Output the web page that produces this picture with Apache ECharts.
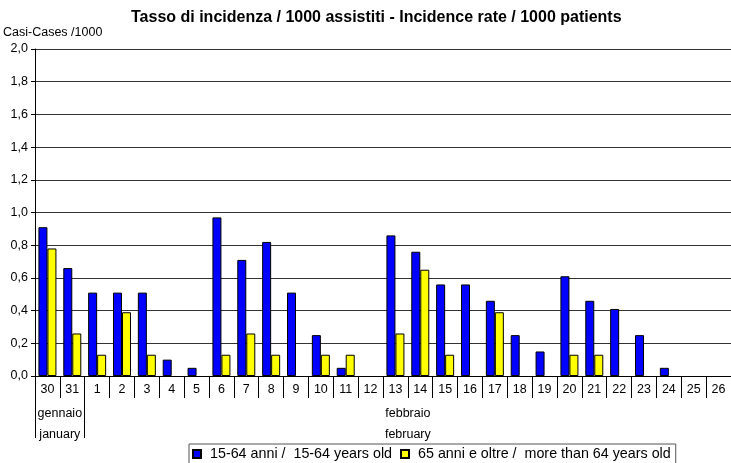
<!DOCTYPE html>
<html>
<head>
<meta charset="utf-8">
<script src="https://cdn.jsdelivr.net/npm/echarts@6/dist/echarts.min.js"></script>
<style>
  html, body { margin: 0; padding: 0; background: #fff; }
  #chart { width: 731px; height: 463px; }
</style>
</head>
<body>
<div id="chart"></div>
<script>
// giorni - days
var days = ['30', '31', '1', '2', '3', '4', '5', '6', '7', '8', '9', '10', '11', '12',
    '13', '14', '15', '16', '17', '18', '19', '20', '21', '22', '23', '24', '25', '26'];
var adults = [0.91, 0.66, 0.51, 0.51, 0.51, 0.10, 0.05, 0.97, 0.71, 0.82, 0.51, 0.25, 0.05, 0,
    0.86, 0.76, 0.56, 0.56, 0.46, 0.25, 0.15, 0.61, 0.46, 0.41, 0.25, 0.05, 0, 0];
var elderly = [0.78, 0.26, 0.13, 0.39, 0.13, 0, 0, 0.13, 0.26, 0.13, 0, 0.13, 0.13, 0,
    0.26, 0.65, 0.13, 0, 0.39, 0, 0, 0.13, 0.13, 0, 0, 0, 0, 0];
// mesi: confini e centro dei gruppi (in numero di categorie)
var monthBounds = [0, 2];
var monthCenters = [1, 15];
var monthNames = ['gennaio\njanuary', 'febbraio\nfebruary'];

var font = 'Liberation Sans, Arial, sans-serif';

// gli zeri non si disegnano (come in Excel)
function noZero(list) {
    return list.map(function (v) { return v === 0 ? '-' : v; });
}

var chart = echarts.init(document.getElementById('chart'));
chart.setOption({
    animation: false,
    title: {
        text: 'Tasso di incidenza / 1000 assistiti - Incidence rate / 1000 patients',
        left: 126,
        top: 5,
        textStyle: { fontFamily: font, fontSize: 16, fontWeight: 'bold', color: '#000' }
    },
    grid: {
        left: 35,
        top: 49,
        width: 700,
        height: 327
    },
    legend: {
        left: 189,
        top: 444,
        padding: [3, 5, 4, 3],
        borderColor: '#555',
        borderWidth: 1,
        itemWidth: 8,
        itemHeight: 8,
        itemGap: 8,
        icon: 'rect',
        textStyle: { fontFamily: font, fontSize: 14.3, color: '#000', padding: [0, 0, 0, 4] },
        data: ['15-64 anni /  15-64 years old', '65 anni e oltre /  more than 64 years old']
    },
    xAxis: [{
        type: 'category',
        data: days,
        axisLine: { lineStyle: { color: '#000', width: 1 } },
        axisTick: { show: true, interval: 0, length: 22, lineStyle: { color: '#000' } },
        axisLabel: { interval: 0, margin: 7, fontFamily: font, fontSize: 12.5, color: '#000' }
    }, {
        type: 'value',
        position: 'bottom',
        min: 0,
        max: days.length,
        axisLine: { show: false },
        splitLine: { show: false },
        axisTick: {
            show: true,
            customValues: monthBounds,
            length: 62,
            lineStyle: { color: '#000' }
        },
        axisLabel: {
            customValues: monthCenters,
            margin: 27,
            lineHeight: 21,
            fontFamily: font,
            fontSize: 12.5,
            color: '#000',
            formatter: function (v) {
                return monthNames[monthCenters.indexOf(v)];
            }
        }
    }],
    yAxis: {
        type: 'value',
        name: 'Casi-Cases /1000',
        nameLocation: 'end',
        nameGap: 10,
        nameTextStyle: { fontFamily: font, fontSize: 12.5, color: '#000', align: 'left', padding: [0, 0, 0, -32] },
        min: 0,
        max: 2,
        interval: 0.2,
        axisLine: { show: true, lineStyle: { color: '#000' } },
        axisTick: { show: true, length: 4, lineStyle: { color: '#000' } },
        axisLabel: {
            margin: 7,
            fontFamily: font,
            fontSize: 12.5,
            color: '#000',
            formatter: function (v) { return v.toFixed(1).replace('.', ','); }
        },
        splitLine: { show: true, lineStyle: { color: '#333', width: 1 } }
    },
    series: [{
        name: '15-64 anni /  15-64 years old',
        type: 'bar',
        data: noZero(adults),
        barWidth: 9,
        barGap: '0%',
        itemStyle: { color: '#0000ff', borderColor: '#000', borderWidth: 1 }
    }, {
        name: '65 anni e oltre /  more than 64 years old',
        type: 'bar',
        data: noZero(elderly),
        barWidth: 9,
        barGap: '0%',
        itemStyle: { color: '#ffff00', borderColor: '#000', borderWidth: 1 }
    }]
});
</script>
</body>
</html>
